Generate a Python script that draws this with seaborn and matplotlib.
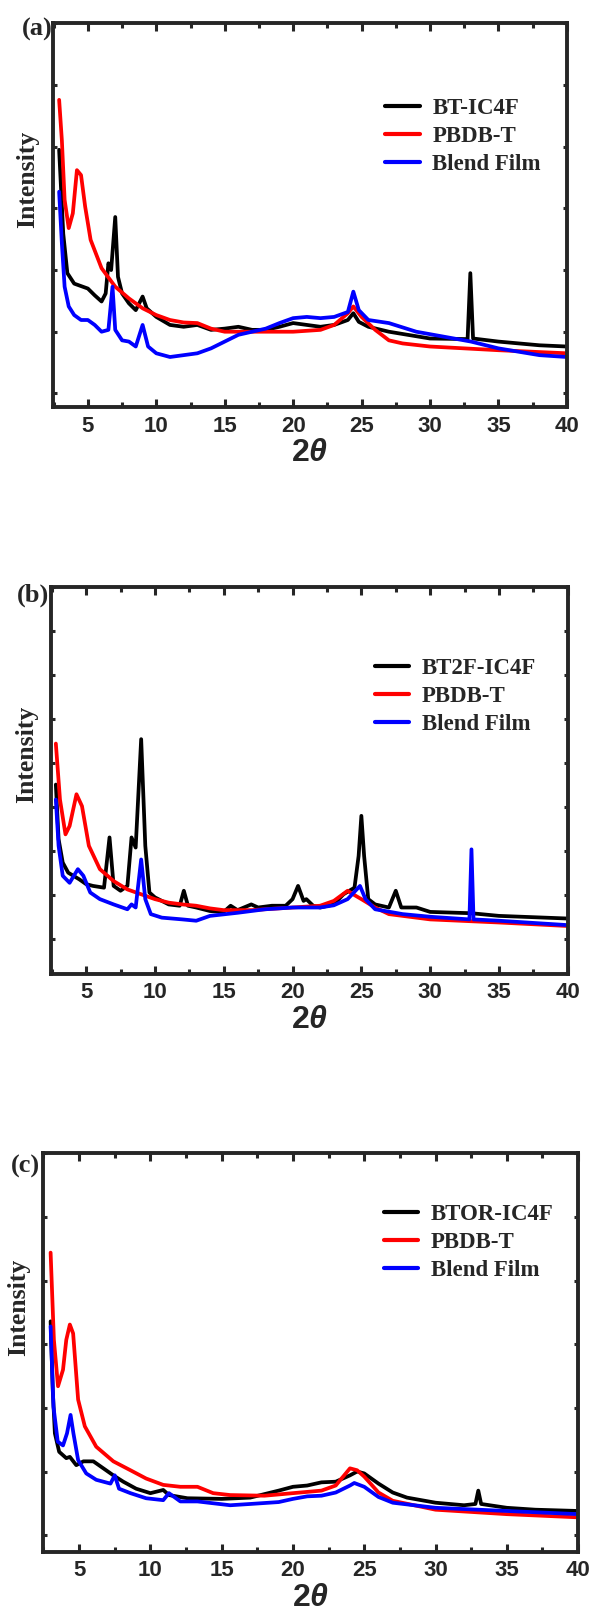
import numpy as np
import pandas as pd
import seaborn as sns
import matplotlib.pyplot as plt
from matplotlib.ticker import MultipleLocator

sns.set_style('ticks')
plt.rcParams['font.family'] = ['Liberation Serif', 'DejaVu Serif']
plt.rcParams['mathtext.fontset'] = 'custom'
plt.rcParams['mathtext.bf'] = 'Liberation Sans:bold'
plt.rcParams['mathtext.it'] = 'Liberation Sans:bold:italic'
plt.rcParams['mathtext.rm'] = 'Liberation Sans:bold'

# ---- panel (a) ----
a_x_black = [2.9, 3.2, 3.5, 4, 5, 5.5, 6, 6.3, 6.5, 6.7, 7.0, 7.2, 7.5, 8, 8.5, 9, 9.3, 10, 11, 12,
             13, 14, 15, 16, 17, 18, 19, 20, 21, 22, 23, 24, 24.4, 24.8, 25.5, 27, 30, 32.75,
             32.95, 33.15, 35, 38, 40]
a_y_black = [3.95, 2.59, 1.95, 1.78, 1.70, 1.59, 1.49, 1.62, 2.11, 2.0, 2.86, 1.89, 1.62, 1.46,
             1.35, 1.57, 1.38, 1.24, 1.11, 1.08, 1.11, 1.03, 1.05, 1.08, 1.03, 1.03, 1.08, 1.14,
             1.11, 1.08, 1.11, 1.19, 1.30, 1.16, 1.08, 1.0, 0.89, 0.88, 1.95, 0.89, 0.84, 0.78, 0.76]
a_x_red = [2.9, 3.1, 3.3, 3.6, 3.9, 4.2, 4.5, 4.8, 5.2, 6, 7, 8, 9, 10, 11, 12, 13, 14, 15, 17,
           20, 22, 23, 24, 24.4, 25, 26, 27, 28, 30, 35, 40]
a_y_red = [4.76, 4.1, 3.14, 2.68, 2.92, 3.62, 3.54, 3.03, 2.49, 2.03, 1.73, 1.54, 1.38, 1.27,
           1.19, 1.15, 1.14, 1.05, 1.0, 1.0, 1.0, 1.03, 1.11, 1.30, 1.41, 1.24, 1.03, 0.86,
           0.81, 0.76, 0.70, 0.65]
a_x_blue = [2.9, 3.1, 3.3, 3.6, 4, 4.5, 5, 5.5, 6, 6.5, 6.8, 7.0, 7.5, 8, 8.5, 9.0, 9.4, 10, 11,
            12, 13, 14, 15, 16, 17, 18, 19, 20, 21, 22, 23, 24, 24.4, 24.8, 25.5, 27, 29, 31,
            33, 35, 38, 40]
a_y_blue = [3.27, 2.43, 1.73, 1.41, 1.27, 1.19, 1.19, 1.11, 1.0, 1.03, 1.73, 1.03, 0.86, 0.84,
            0.76, 1.11, 0.76, 0.65, 0.59, 0.62, 0.65, 0.73, 0.84, 0.95, 1.0, 1.05, 1.14, 1.22,
            1.24, 1.22, 1.24, 1.32, 1.65, 1.35, 1.19, 1.14, 1.0, 0.92, 0.84, 0.73, 0.62, 0.59]

# ---- panel (b) ----
b_x_black = [2.8, 3.0, 3.3, 3.7, 4.5, 5, 5.5, 6.3, 6.7, 7.0, 7.5, 8.0, 8.3, 8.6, 9.0, 9.3, 9.6,
             10, 11, 11.8, 12.1, 12.4, 13, 14, 15, 15.5, 16, 17, 17.5, 18.5, 19.5, 20.0, 20.4,
             20.8, 21.0, 21.5, 22, 23, 23.7, 24.5, 24.8, 25.0, 25.2, 25.5, 26, 27, 27.5, 27.9,
             29, 30, 33, 35, 40]
b_y_black = [3.51, 2.27, 1.74, 1.51, 1.36, 1.25, 1.21, 1.17, 2.31, 1.21, 1.10, 1.21, 2.31, 2.08,
             4.54, 2.12, 1.06, 0.95, 0.79, 0.76, 1.10, 0.76, 0.72, 0.64, 0.62, 0.76, 0.66, 0.79,
             0.72, 0.76, 0.76, 0.91, 1.21, 0.87, 0.91, 0.76, 0.72, 0.79, 1.02, 1.17, 1.89, 2.80,
             1.89, 0.91, 0.79, 0.72, 1.10, 0.72, 0.72, 0.62, 0.59, 0.53, 0.47]
b_x_red = [2.8, 3.1, 3.5, 3.8, 4.3, 4.7, 5.2, 6, 7, 8, 9, 10, 11, 12, 13, 14, 15, 17, 20, 22, 23,
           24, 24.4, 25, 26, 27, 30, 35, 40]
b_y_red = [4.44, 3.17, 2.38, 2.57, 3.29, 3.02, 2.12, 1.59, 1.32, 1.13, 1.02, 0.91, 0.83, 0.79,
           0.76, 0.70, 0.66, 0.66, 0.72, 0.76, 0.87, 1.10, 1.02, 0.91, 0.72, 0.57, 0.45, 0.38, 0.30]
b_x_blue = [2.8, 3.0, 3.3, 3.8, 4.4, 4.8, 5.3, 6, 7, 8, 8.3, 8.6, 9.0, 9.3, 9.7, 10.5, 12, 13,
            14, 16, 18, 20, 22, 23, 24, 24.9, 25.3, 26, 28, 30, 32.85, 33.0, 33.15, 35, 40]
b_y_blue = [3.17, 2.12, 1.44, 1.28, 1.59, 1.44, 1.06, 0.91, 0.79, 0.68, 0.79, 0.72, 1.81, 0.91,
            0.57, 0.49, 0.45, 0.42, 0.53, 0.60, 0.68, 0.72, 0.72, 0.77, 0.91, 1.21, 0.91, 0.68,
            0.57, 0.51, 0.45, 2.04, 0.45, 0.42, 0.32]

# ---- panel (c) ----
c_x_black = [3.0, 3.15, 3.3, 3.6, 4.1, 4.35, 4.8, 5.3, 6.0, 6.7, 7.4, 8.1, 9.0, 10, 10.9, 11.3,
             12.6, 15, 17, 19, 20, 21, 22, 23, 24, 24.5, 25, 26, 27, 28, 30, 32, 32.8, 33, 33.2,
             35, 37, 40]
c_y_black = [3.36, 2.28, 1.60, 1.31, 1.21, 1.23, 1.10, 1.16, 1.16, 1.05, 0.94, 0.84, 0.73, 0.66,
             0.71, 0.63, 0.58, 0.57, 0.59, 0.70, 0.76, 0.78, 0.83, 0.84, 0.94, 1.0, 0.97, 0.81,
             0.67, 0.59, 0.51, 0.47, 0.49, 0.70, 0.49, 0.43, 0.40, 0.38]
c_x_red = [3.0, 3.23, 3.52, 3.87, 4.1, 4.35, 4.58, 4.93, 5.4, 6.2, 7.4, 8.6, 9.7, 10.9, 12.1, 13.3,
           14.4, 15.6, 18, 20, 22, 23, 24, 24.5, 25, 26, 27, 30, 35, 40]
c_y_red = [4.44, 3.07, 2.34, 2.60, 3.07, 3.31, 3.17, 2.13, 1.71, 1.39, 1.16, 1.02, 0.89, 0.79,
           0.76, 0.76, 0.66, 0.63, 0.62, 0.66, 0.70, 0.78, 1.05, 1.02, 0.92, 0.67, 0.54, 0.40,
           0.33, 0.28]
c_x_blue = [3.0, 3.2, 3.5, 3.87, 4.15, 4.4, 4.6, 4.93, 5.5, 6.2, 7.2, 7.5, 7.8, 8.6, 9.7, 10.9,
            11.3, 12.1, 13.3, 15.6, 17, 19, 20, 21, 22, 23, 24, 24.3, 25, 26, 27, 30, 35, 40]
c_y_blue = [3.28, 2.02, 1.47, 1.41, 1.60, 1.89, 1.60, 1.18, 0.97, 0.87, 0.81, 0.94, 0.73, 0.66,
            0.58, 0.55, 0.66, 0.53, 0.53, 0.47, 0.49, 0.52, 0.57, 0.61, 0.62, 0.67, 0.78, 0.82,
            0.76, 0.60, 0.51, 0.43, 0.38, 0.33]

panels = [
    dict(tag='(a)', names=['BT-IC4F', 'PBDB-T', 'Blend Film'],
         xs=[a_x_black, a_x_red, a_x_blue], ys=[a_y_black, a_y_red, a_y_blue],
         rect=[0.0892, 0.7476, 0.865, 0.2379], ylim=(-0.227, 6.0), yticks=range(0, 7),
         xlim=(2.45, 40), leg=(0.647, 0.805), ylab=(-0.049, 0.595), tag_pos=(0.0, 0.985)),
    dict(tag='(b)', names=['BT2F-IC4F', 'PBDB-T', 'Blend Film'],
         xs=[b_x_black, b_x_red, b_x_blue], ys=[b_y_black, b_y_red, b_y_blue],
         rect=[0.0859, 0.3965, 0.870, 0.240], ylim=(-0.79, 8.0), yticks=range(0, 9),
         xlim=(2.45, 40), leg=(0.626, 0.815), ylab=(-0.048, 0.568), tag_pos=(-0.004, 0.979)),
    dict(tag='(c)', names=['BTOR-IC4F', 'PBDB-T', 'Blend Film'],
         xs=[c_x_black, c_x_red, c_x_blue], ys=[c_y_black, c_y_red, c_y_blue],
         rect=[0.0732, 0.0386, 0.900, 0.2468], ylim=(-0.26, 6.0), yticks=range(0, 7),
         xlim=(2.5, 40), leg=(0.637, 0.872), ylab=(-0.046, 0.614), tag_pos=(-0.007, 0.966)),
]
colors = ['black', '#ff0000', '#0000ff']

fig = plt.figure(figsize=(5.94, 16.14), dpi=100)

for p in panels:
    ax = fig.add_axes(p['rect'])
    for x, y, name, c in zip(p['xs'], p['ys'], p['names'], colors):
        df = pd.DataFrame({'x': x, 'y': y})
        sns.lineplot(data=df, x='x', y='y', color=c, lw=2.7, label=name, ax=ax,
                     estimator=None, sort=False)
    ax.set_xlim(*p['xlim'])
    ax.set_ylim(*p['ylim'])
    ax.set_xticks(range(5, 41, 5))
    ax.xaxis.set_minor_locator(MultipleLocator(2.5))
    ax.set_yticks(list(p['yticks']))
    ax.set_yticklabels([])
    ax.tick_params(axis='both', which='both', direction='in', top=True, right=True, width=2.2)
    ax.tick_params(axis='x', which='major', length=6, pad=6, labelsize=16)
    ax.tick_params(axis='x', which='minor', length=3.5)
    ax.tick_params(axis='y', which='major', length=3)
    for lab in ax.get_xticklabels():
        lab.set_fontfamily('Liberation Sans')
        lab.set_fontweight('bold')
    for s in ax.spines.values():
        s.set_linewidth(2.8)
    ax.set_ylabel('')
    ax.set_xlabel(r'$\mathbf{2}\mathit{\theta}$', fontsize=23, labelpad=2)
    ax.text(p['ylab'][0], p['ylab'][1], 'Intensity', rotation=90, ha='center', va='center',
            fontsize=18.5, fontweight='bold', transform=ax.transAxes)
    ax.text(p['tag_pos'][0], p['tag_pos'][1], p['tag'], ha='right', va='center',
            fontsize=19, fontweight='bold', transform=ax.transAxes)
    leg = ax.legend(loc='upper left', bbox_to_anchor=p['leg'], frameon=False, borderpad=0,
                    borderaxespad=0, handlelength=1.5, handletextpad=0.55, labelspacing=0.3,
                    prop={'family': 'Liberation Serif', 'weight': 'bold', 'size': 16.5})
    for h in leg.get_lines():
        h.set_linewidth(3)

fig.savefig('out.png', dpi=100)
